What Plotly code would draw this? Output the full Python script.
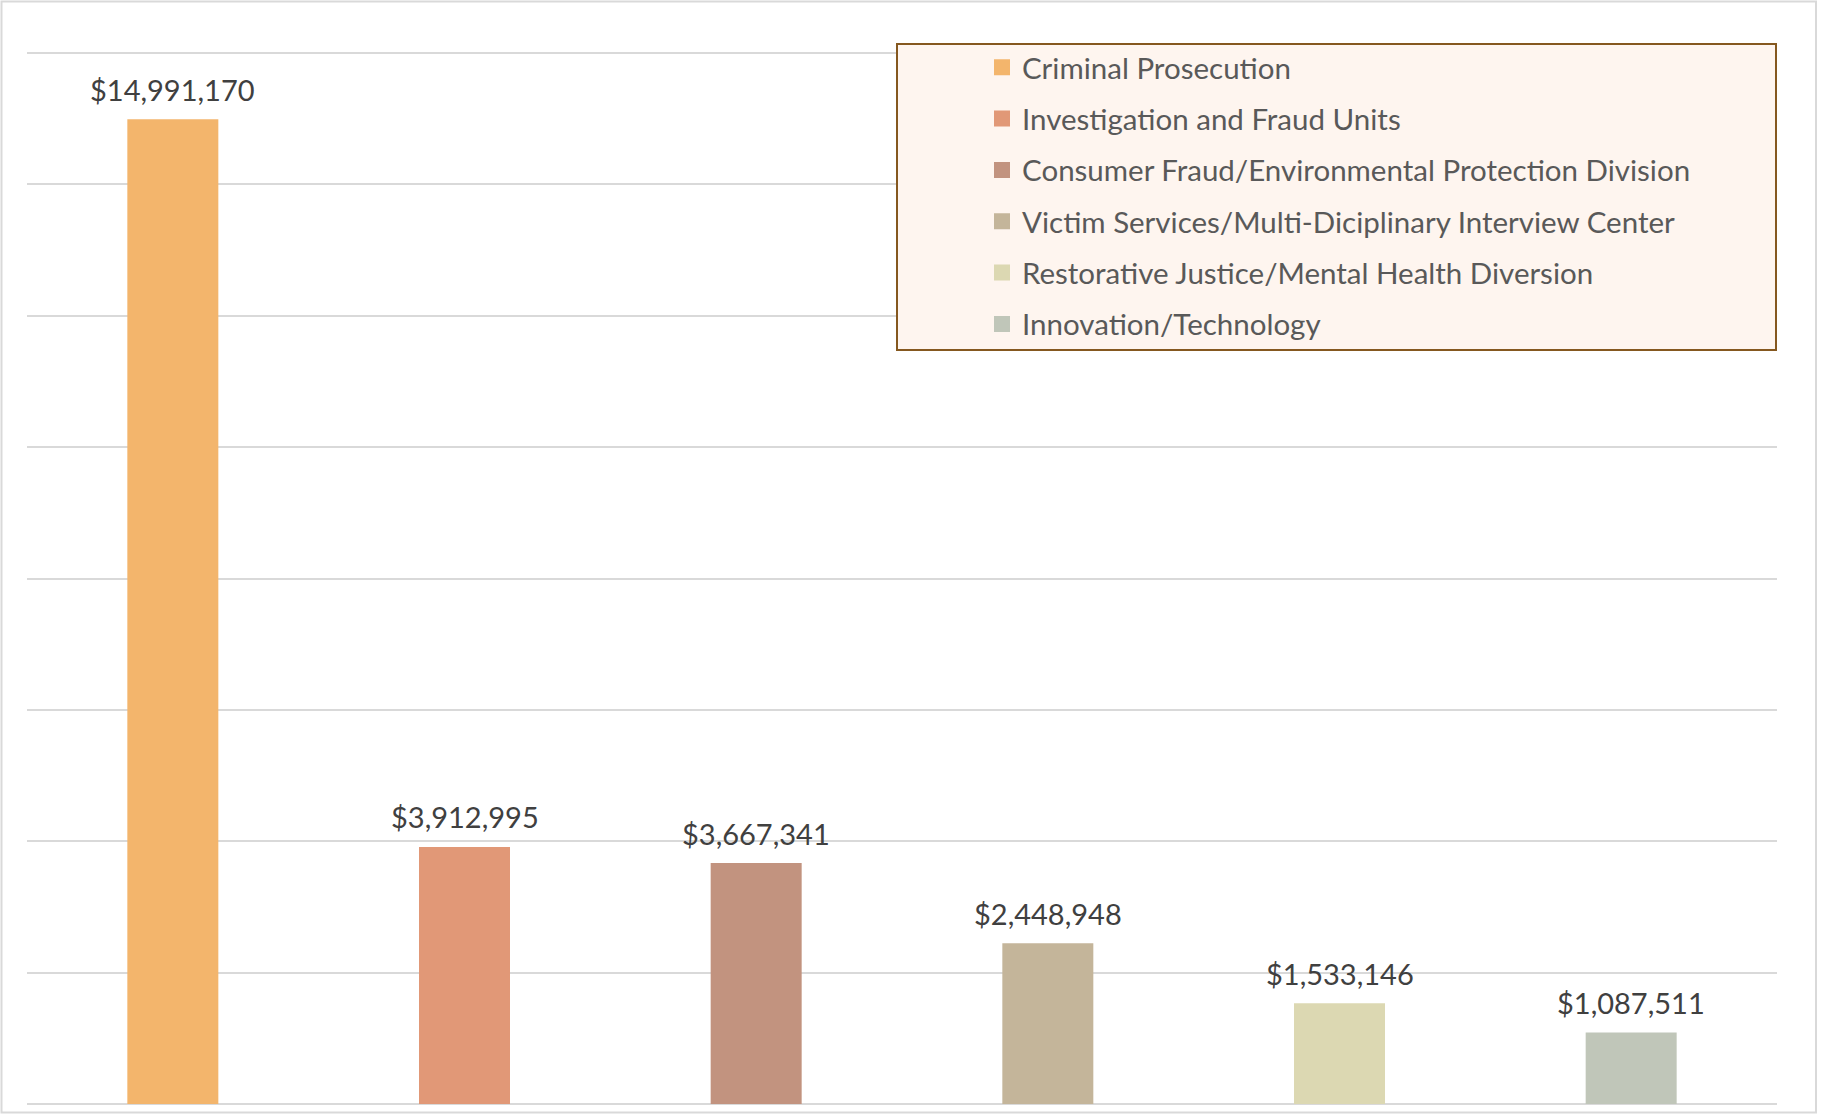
import plotly.graph_objects as go

categories = [
    "Criminal Prosecution",
    "Investigation and Fraud Units",
    "Consumer Fraud/Environmental Protection Division",
    "Victim Services/Multi-Diciplinary Interview Center",
    "Restorative Justice/Mental Health Diversion",
    "Innovation/Technology",
]
values = [14991170, 3912995, 3667341, 2448948, 1533146, 1087511]
colors = ["#F3B56C", "#E19877", "#C2937F", "#C4B59A", "#DCD8B2", "#C0C6B9"]

W, H = 1821, 1114
ML, MR, MT, MB = 27, 44, 51, 10
PW, PH = W - ML - MR, H - MT - MB
Y_TOP = 16000000
Y_MAX = Y_TOP * PH / (PH - 2)  # leave 2px above the top gridline so it is drawn


def px_x(p):
    return (p - ML) / PW


def px_y(p):
    return (H - MB - p) / PH


FONT = "Lato, 'Open Sans', sans-serif"

fig = go.Figure()
for i, (c, v, col) in enumerate(zip(categories, values, colors)):
    fig.add_trace(go.Bar(
        x=[c], y=[v], name=c, marker=dict(color=col, line=dict(width=0)),
        legendgroup=f"g{i}", showlegend=False, hoverinfo="x+y",
    ))
    # legend entry (square key like the original chart's legend)
    fig.add_trace(go.Scatter(
        x=[None], y=[None], name=c, mode="markers",
        marker=dict(symbol="square", size=16, color=col, line=dict(width=0)),
        legendgroup=f"g{i}", showlegend=True, hoverinfo="skip",
    ))
    fig.add_annotation(
        x=c, y=v, text=f"${v:,.0f}", showarrow=False, yanchor="middle",
        yshift=30, font=dict(family=FONT, size=29, color="#404040"),
    )

shapes = [
    # outer chart border
    dict(type="rect", xref="paper", yref="paper",
         x0=px_x(1.5), x1=px_x(1816), y0=px_y(1112.5), y1=px_y(1.5),
         line=dict(color="#D9D9D9", width=2), fillcolor="rgba(0,0,0,0)", layer="below"),
    # legend box
    dict(type="rect", xref="paper", yref="paper",
         x0=px_x(897), x1=px_x(1776), y0=px_y(350), y1=px_y(44),
         line=dict(color="#85581F", width=2), fillcolor="#FEF5EF", layer="above"),
]

fig.update_layout(
    width=W, height=H,
    margin=dict(l=ML, r=MR, t=MT, b=MB),
    paper_bgcolor="white", plot_bgcolor="white",
    barmode="overlay", bargap=0.688,
    showlegend=True,
    legend=dict(
        x=px_x(982), y=px_y(41.5), xanchor="left", yanchor="top",
        bgcolor="rgba(0,0,0,0)", borderwidth=0,
        font=dict(family=FONT, size=29.5, color="#595959"),
        tracegroupgap=10, traceorder="grouped",
    ),
    xaxis=dict(type="category", showticklabels=False, showgrid=False,
               zeroline=False, showline=False, ticks=""),
    yaxis=dict(range=[0, Y_MAX], tick0=0, dtick=2000000, showticklabels=False,
               showgrid=True, gridcolor="#D9D9D9", gridwidth=2,
               zeroline=True, zerolinecolor="#D9D9D9", zerolinewidth=2,
               ticks=""),
    shapes=shapes,
)

fig.write_html("out.html")
